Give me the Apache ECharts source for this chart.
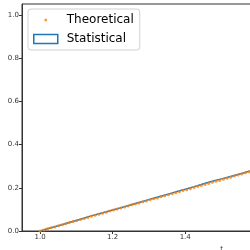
<!DOCTYPE html>
<html>
<head>
<meta charset="utf-8">
<script src="https://cdn.jsdelivr.net/npm/echarts@6/dist/echarts.min.js"></script>
<style>html,body{margin:0;padding:0;background:#fff}#c{width:250px;height:250px}</style>
</head>
<body>
<div id="c"></div>
<script>
// Theoretical points (t, F)
var theoT = [1.0000,1.0101,1.0202,1.0303,1.0404,1.0505,1.0606,1.0707,1.0808,1.0909,
  1.1010,1.1111,1.1212,1.1313,1.1414,1.1515,1.1616,1.1717,1.1818,1.1919,
  1.2020,1.2121,1.2222,1.2323,1.2424,1.2525,1.2626,1.2727,1.2828,1.2929,
  1.3030,1.3131,1.3232,1.3333,1.3434,1.3535,1.3636,1.3737,1.3838,1.3939,
  1.4040,1.4141,1.4242,1.4343,1.4444,1.4545,1.4646,1.4747,1.4848,1.4949,
  1.5051,1.5152,1.5253,1.5354,1.5455,1.5556,1.5657,1.5758,1.5859,1.5960];
var theoF = [0.000,0.005,0.010,0.015,0.019,0.024,0.029,0.034,0.039,0.044,
  0.048,0.053,0.058,0.063,0.068,0.073,0.078,0.082,0.087,0.092,
  0.097,0.102,0.106,0.111,0.116,0.121,0.125,0.130,0.135,0.139,
  0.144,0.149,0.153,0.158,0.163,0.168,0.172,0.177,0.182,0.187,
  0.191,0.196,0.201,0.206,0.210,0.215,0.220,0.225,0.230,0.234,
  0.239,0.244,0.249,0.254,0.259,0.264,0.269,0.274,0.279,0.284];
// Statistical (empirical cumulative distribution)
var statT = [1.00,1.02,1.04,1.06,1.08,1.10,1.12,1.14,1.16,1.18,1.20,1.22,1.24,1.26,1.28,1.30,
  1.32,1.34,1.36,1.38,1.40,1.42,1.44,1.46,1.48,1.50,1.52,1.54,1.56,1.58,1.60];
var statF = [0.000,0.010,0.020,0.029,0.039,0.049,0.059,0.070,0.079,0.088,0.097,0.106,0.116,0.126,0.135,0.145,
  0.155,0.164,0.174,0.184,0.193,0.203,0.213,0.223,0.232,0.241,0.250,0.259,0.268,0.278,0.287];
var xTicks = [1.0,1.2,1.4,1.6,1.8,2.0];
var yTicks = [0.0,0.2,0.4,0.6,0.8,1.0];

function pairs(a,b){var r=[];for(var i=0;i<a.length;i++)r.push([a[i],b[i]]);return r;}

var chart = echarts.init(document.getElementById('c'), null, {renderer:'canvas'});
var axisCol = '#333';
var labelStyle = {color:'#333', fontSize:7, fontFamily:'DejaVu Sans'};
chart.setOption({
  animation:false,
  backgroundColor:'#fff',
  grid:{left:22, top:4, width:399, height:227, containLabel:false, outerBoundsMode:'none',
        show:true, borderColor:axisCol, borderWidth:1, backgroundColor:'transparent'},
  legend:{
    left:28, top:9, orient:'vertical', itemWidth:24, itemHeight:9, itemGap:7,
    padding:[5,6,5,5], borderColor:'#d0d0d0', borderWidth:1, borderRadius:3, backgroundColor:'#fff',
    textStyle:{fontSize:12, fontFamily:'DejaVu Sans', color:'#000', padding:[0,0,0,4]},
    data:[
      {name:'Theoretical', icon:'path://M0,0 M24,9 M10.5,4.5 A1.5,1.5 0 1,0 13.5,4.5 A1.5,1.5 0 1,0 10.5,4.5 Z', itemStyle:{color:'#ff7f0e'}},
      {name:'Statistical', icon:'rect', itemStyle:{color:'#fff', borderColor:'#1f77b4', borderWidth:1.5}}
    ]
  },
  xAxis:{
    type:'value', min:0.95, max:2.05,
    name:'t', nameLocation:'middle', nameGap:13, nameTextStyle:labelStyle,
    axisLine:{show:true, lineStyle:{color:axisCol, width:1}},
    axisTick:{show:true, length:3, customValues:xTicks, lineStyle:{color:axisCol}},
    axisLabel:{customValues:xTicks, margin:3, formatter:function(v){return v.toFixed(1);}, color:'#333', fontSize:7, fontFamily:'DejaVu Sans'},
    splitLine:{show:false}
  },
  yAxis:{
    type:'value', min:0, max:1.05,
    name:'F(t)', nameLocation:'middle', nameGap:16, nameRotate:90, nameTextStyle:labelStyle,
    axisLine:{show:true, lineStyle:{color:axisCol, width:1}},
    axisTick:{show:true, length:3, customValues:yTicks, lineStyle:{color:axisCol}},
    axisLabel:{customValues:yTicks, margin:3, formatter:function(v){return v.toFixed(1);}, color:'#333', fontSize:7, fontFamily:'DejaVu Sans'},
    splitLine:{show:false}
  },
  series:[
    {name:'Statistical', type:'line', data:pairs(statT,statF), showSymbol:false, symbol:'none',
     lineStyle:{color:'#1f77b4', width:1.5}, itemStyle:{color:'#1f77b4'}, z:2},
    {name:'Theoretical', type:'scatter', data:pairs(theoT,theoF), symbol:'circle', symbolSize:3,
     itemStyle:{color:'#ff7f0e'}, z:3}
  ]
});
</script>
</body>
</html>
